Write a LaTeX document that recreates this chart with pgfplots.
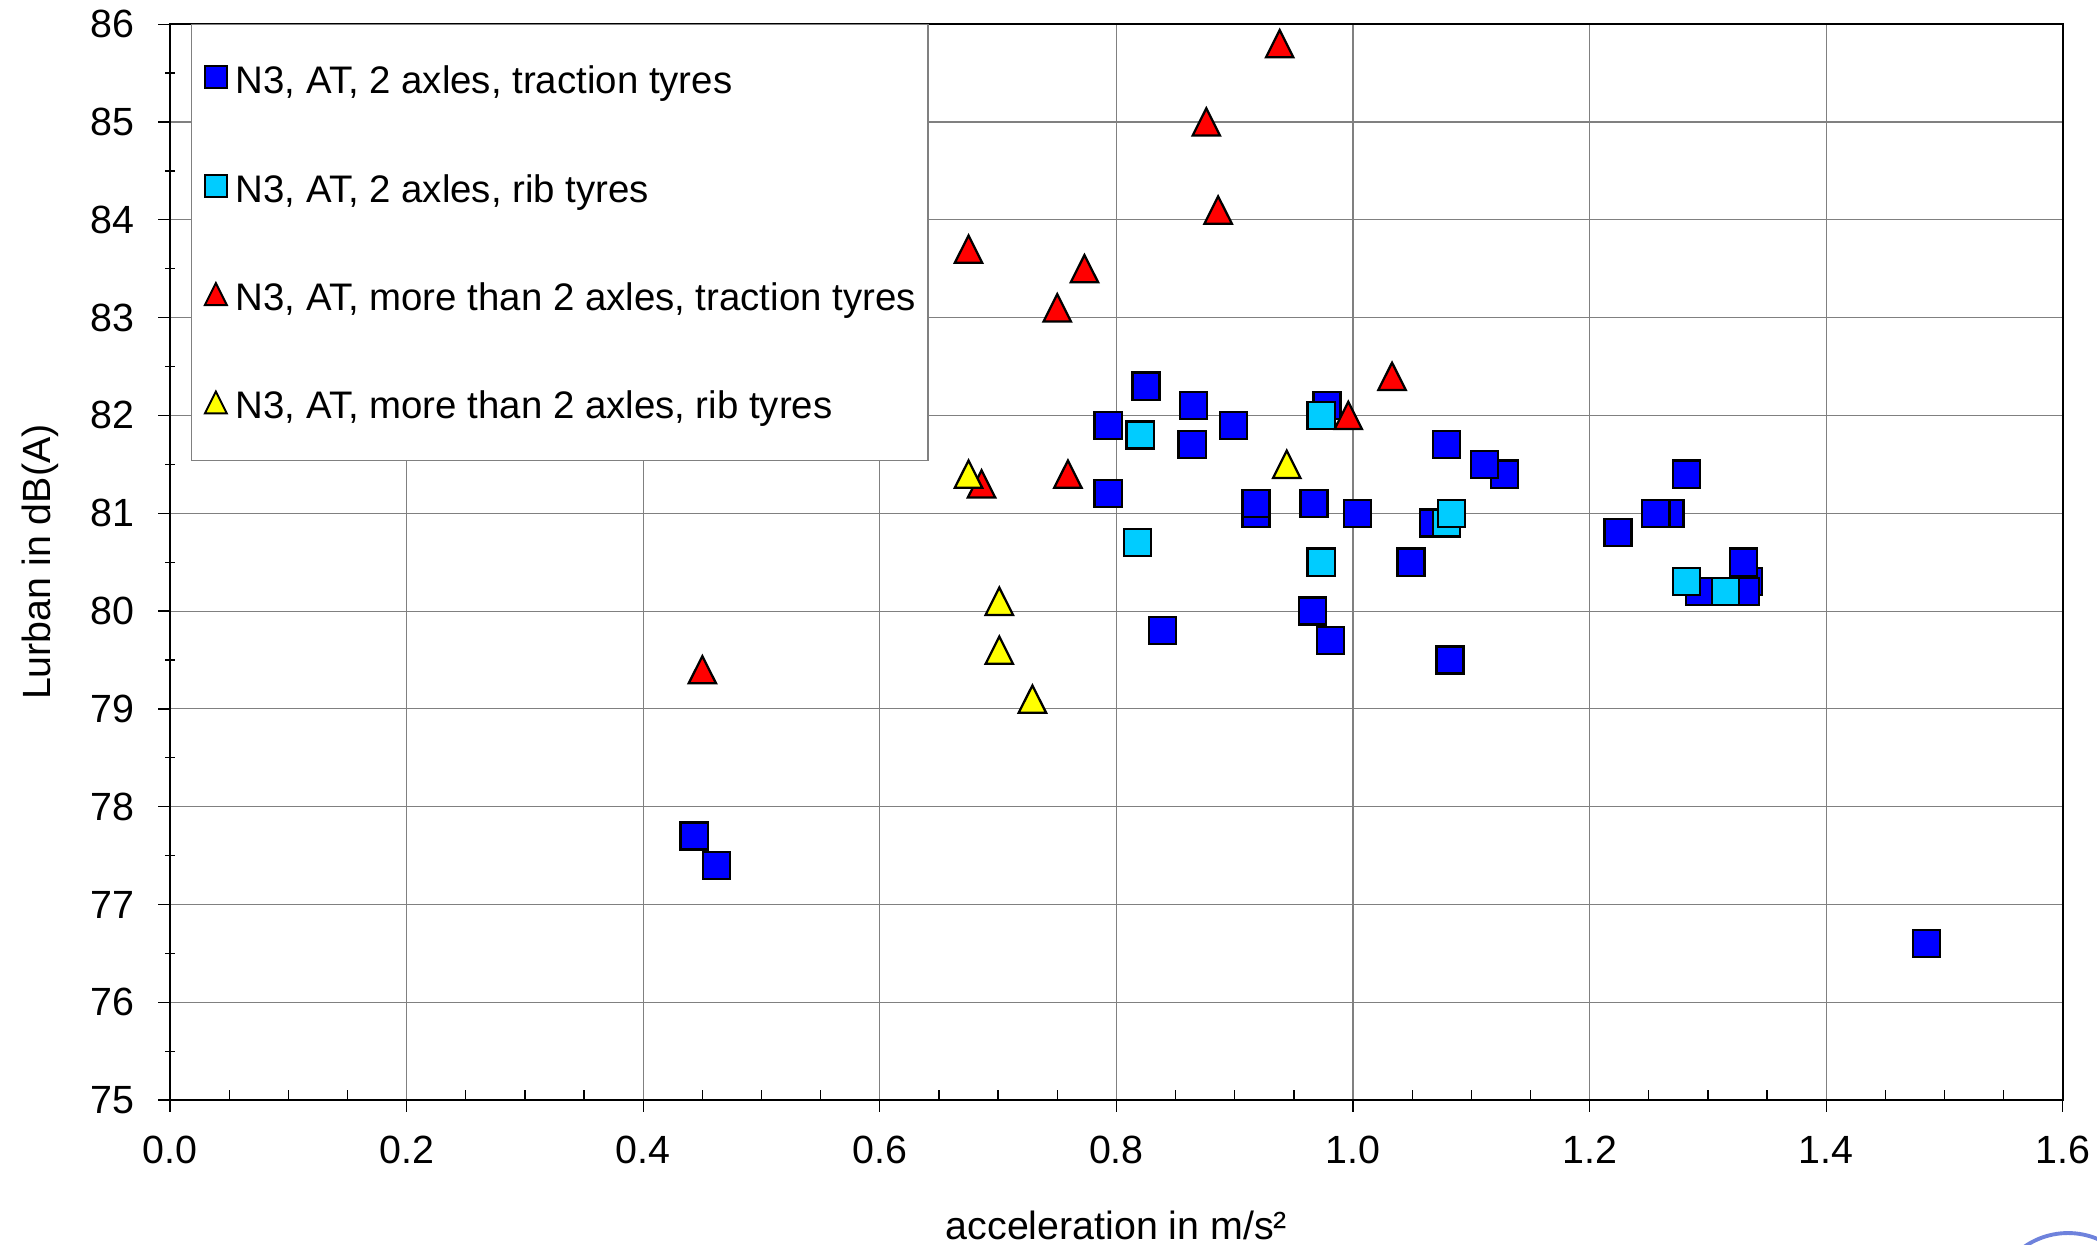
\documentclass[border=0pt]{standalone}
\usepackage{fontspec}
\setmainfont{Liberation Sans}
\usepackage{pgfplots}
\pgfplotsset{compat=1.18}
\definecolor{sqblue}{RGB}{0,0,255}
\definecolor{sqcyan}{RGB}{0,204,255}
\definecolor{trired}{RGB}{255,0,0}
\definecolor{triyel}{RGB}{255,255,0}
\definecolor{logoblue}{RGB}{110,130,220}

\begin{document}
\begin{tikzpicture}
\useasboundingbox (-52.7pt,-44.9pt) rectangle (597.3pt,341.0pt);
\begin{axis}[
  at={(0,0)}, anchor=south west,
  scale only axis, width=586.7pt, height=333.5pt,
  xmin=0, xmax=1.6, ymin=75, ymax=86,
  xtick={0,0.2,0.4,0.6,0.8,1.0,1.2,1.4,1.6},
  ytick={75,76,77,78,79,80,81,82,83,84,85,86},
  minor x tick num=3, minor y tick num=1,
  tick pos=left,
  /pgf/number format/assume math mode=true,
  tick label style={font=\fontsize{12.2}{14}\selectfont},
  xticklabel style={yshift=-4pt, /pgf/number format/.cd, fixed, fixed zerofill, precision=1},
  yticklabel style={xshift=-4pt},
  label style={font=\fontsize{12.2}{14}\selectfont},
  tick align=outside, major tick length=3.6pt, minor tick length=3pt,
  tick style={black, line width=0.4pt},
  minor x tick style={yshift=3pt},
  minor y tick style={xshift=1.5pt},
  grid=major, major grid style={gray, line width=0.35pt},
  axis line style={black, line width=0.8pt},
  xlabel={acceleration in m/s²},
  ylabel={Lurban in dB(A)},
  xlabel style={at={(axis description cs:0.5,-0.116)}, anchor=center},
  ylabel style={at={(axis description cs:-0.0687,0.5)}, anchor=center},
  legend cell align=left,
  legend style={at={(axis description cs:0.0111,1)}, anchor=north west,
    draw=gray, line width=0.4pt, fill=white,
    font=\fontsize{11.9}{13}\selectfont,
    inner xsep=3.8pt, inner ysep=11.6pt, row sep=22.6pt,
    nodes={inner sep=0pt, text height=9.75pt, text depth=1.25pt},
    /tikz/every odd column/.append style={column sep=2.5pt}},
]
\addplot[only marks, mark=square*, mark size=4.2pt,
  mark options={fill=sqblue, draw=black, line width=0.7pt},
  legend image code/.code={\draw[fill=sqblue, draw=black, line width=0.6pt] (0pt,-2.55pt) rectangle (6.8pt,4.25pt);}]
  coordinates {
  (0.443,77.7) (0.462,77.4) (0.793,81.9) (0.825,82.3) (0.865,82.1)
  (0.864,81.7) (0.899,81.9) (0.793,81.2) (0.839,79.8) (0.918,81.0)
  (0.918,81.1) (0.967,81.1) (0.966,80.0) (0.981,79.7) (0.978,82.1)
  (1.004,81.0) (1.049,80.5) (1.068,80.9) (1.079,81.7) (1.082,79.5)
  (1.128,81.4) (1.111,81.5) (1.224,80.8) (1.268,81.0) (1.256,81.0)
  (1.282,81.4) (1.293,80.2) (1.334,80.3) (1.332,80.2) (1.330,80.5)
  (1.485,76.6)
};
\addlegendentry{N3, AT, 2 axles, traction tyres}
\addplot[only marks, mark=square*, mark size=4.2pt,
  mark options={fill=sqcyan, draw=black, line width=0.7pt},
  legend image code/.code={\draw[fill=sqcyan, draw=black, line width=0.6pt] (0pt,-2.55pt) rectangle (6.8pt,4.25pt);}]
  coordinates {
  (0.820,81.8) (0.973,82.0) (0.818,80.7) (0.973,80.5)
  (1.079,80.9) (1.083,81.0) (1.282,80.3) (1.315,80.2)
};
\addlegendentry{N3, AT, 2 axles, rib tyres}
\addplot[only marks, mark=triangle*, mark size=4.9pt,
  mark options={fill=trired, draw=black, line width=0.7pt, yshift=-1.4pt, yscale=1.15},
  legend image code/.code={\draw[fill=trired, draw=black, line width=0.6pt] (0pt,-2.55pt) -- (6.8pt,-2.55pt) -- (3.4pt,4.25pt) -- cycle;}]
  coordinates {
  (0.938,85.8) (0.876,85.0) (0.886,84.1) (0.675,83.7) (0.773,83.5)
  (0.750,83.1) (1.033,82.4) (0.996,82.0) (0.759,81.4) (0.686,81.3)
  (0.450,79.4)
};
\addlegendentry{N3, AT, more than 2 axles, traction tyres}
\addplot[only marks, mark=triangle*, mark size=4.9pt,
  mark options={fill=triyel, draw=black, line width=0.7pt, yshift=-1.4pt, yscale=1.15},
  legend image code/.code={\draw[fill=triyel, draw=black, line width=0.6pt] (0pt,-2.55pt) -- (6.8pt,-2.55pt) -- (3.4pt,4.25pt) -- cycle;}]
  coordinates {
  (0.675,81.4) (0.944,81.5) (0.701,80.1) (0.701,79.6) (0.729,79.1)
};
\addlegendentry{N3, AT, more than 2 axles, rib tyres}
\end{axis}
\draw[logoblue, line width=1.2pt] (588.3pt,-64.8pt) circle (23.6pt);
\end{tikzpicture}
\end{document}
